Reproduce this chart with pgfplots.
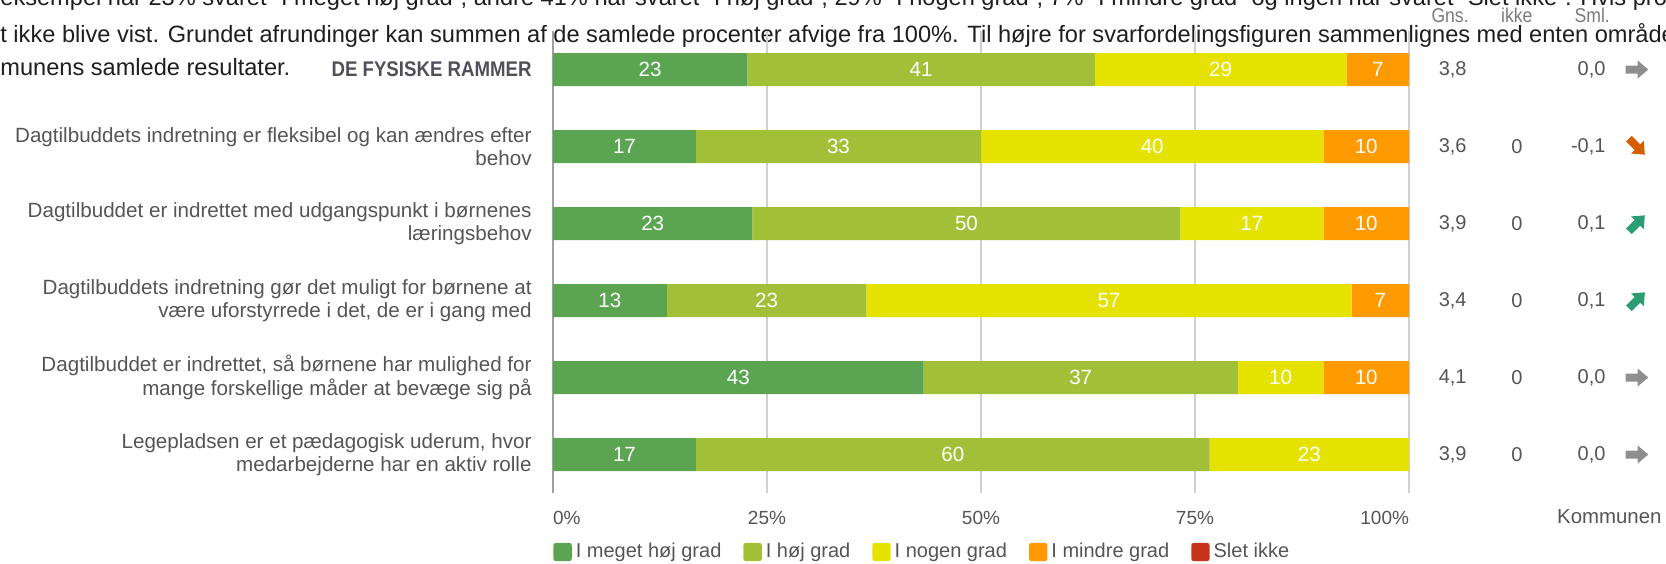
\documentclass[border=0pt]{standalone}
\usepackage{fontspec}
\setmainfont{Liberation Sans}
\newfontfamily\cond[FakeStretch=0.88]{Liberation Sans}
\usepackage{pgfplots}
\pgfplotsset{compat=1.18}
\definecolor{c1}{HTML}{5BA552}
\definecolor{c2}{HTML}{A2C037}
\definecolor{c3}{HTML}{E6E200}
\definecolor{c4}{HTML}{FF9A00}
\definecolor{c5}{HTML}{C8331B}
\definecolor{txt}{HTML}{555555}
\definecolor{hdr}{HTML}{7A7A7A}
\definecolor{topc}{HTML}{1E1E1E}
\definecolor{gridc}{HTML}{D0D0D0}
\definecolor{zeroc}{HTML}{A0A0A0}
\definecolor{arrgray}{HTML}{8E8E8E}
\definecolor{arrorange}{HTML}{D45E00}
\definecolor{arrgreen}{HTML}{2A9D72}
\definecolor{catc}{HTML}{50505A}
\pgfdeclareplotmark{blockarrow}{%
 \pgfpathmoveto{\pgfpoint{-5.5pt}{-2pt}}%
 \pgfpathlineto{\pgfpoint{0.5pt}{-2pt}}%
 \pgfpathlineto{\pgfpoint{0.5pt}{-4.5pt}}%
 \pgfpathlineto{\pgfpoint{5.75pt}{0pt}}%
 \pgfpathlineto{\pgfpoint{0.5pt}{4.5pt}}%
 \pgfpathlineto{\pgfpoint{0.5pt}{2pt}}%
 \pgfpathlineto{\pgfpoint{-5.5pt}{2pt}}%
 \pgfpathclose
 \pgfusepathqfill}
\newcommand{\lfont}{\fontsize{10}{12}\selectfont}
\newcommand{\kfont}{\fontsize{10.2}{12}\selectfont}
\newcommand{\tfont}{\fontsize{9.5}{11}\selectfont}
\newcommand{\vfont}{\fontsize{10}{12}\selectfont}
\newcommand{\hfont}{\cond\fontsize{10}{12}\selectfont}
\newcommand{\topfont}{\fontsize{11.8}{14}\selectfont}
\pgfplotsset{
 sq/.style={legend image code/.code={\fill[#1, rounded corners=1.3pt] (0pt,-4.6pt) rectangle (9.2pt,4.6pt);}},
}
\begin{document}
\begin{tikzpicture}
\useasboundingbox (0,0) rectangle (833pt,281.5pt);
\clip (0,0) rectangle (833pt,281.5pt);
\node[anchor=base west, inner sep=0, font=\topfont, text=topc] at (0pt,278.5pt) {eksempel har 23\% svaret "I meget høj grad", andre 41\% har svaret "I høj grad", 29\% "I nogen grad", 7\% "I mindre grad" og ingen har svaret "Slet ikke". Hvis procenten};
\node[anchor=base west, inner sep=0, font=\topfont, text=topc] at (0pt,260pt) {t ikke blive vist. Grundet afrundinger kan summen af de samlede procenter afvige fra 100\%. Til højre for svarfordelingsfiguren sammenlignes med enten område};
\node[anchor=base west, inner sep=0, font=\topfont, text=topc] at (0pt,243.5pt) {munens samlede resultater.};
\begin{axis}[
 at={(276.5pt,35pt)}, anchor=south west,
 scale only axis, width=428pt, height=231pt,
 xbar stacked, bar width=16.5pt,
 xmin=0, xmax=100, ymin=-0.5, ymax=5.5,
 ytick={0,...,5},
 yticklabels={
  {Legepladsen er et pædagogisk uderum, hvor\\medarbejderne har en aktiv rolle},
  {Dagtilbuddet er indrettet, så børnene har mulighed for\\mange forskellige måder at bevæge sig på},
  {Dagtilbuddets indretning gør det muligt for børnene at\\være uforstyrrede i det, de er i gang med},
  {Dagtilbuddet er indrettet med udgangspunkt i børnenes\\læringsbehov},
  {Dagtilbuddets indretning er fleksibel og kan ændres efter\\behov},
  {\cond\bfseries\fontsize{10.6}{12}\selectfont\color{catc}DE FYSISKE RAMMER}},
 yticklabel style={align=right, font=\fontsize{10.3}{11.8}\selectfont, text=txt, inner sep=0pt, xshift=-10.5pt},
 xtick={25,50,75,100}, xticklabels={25\%,50\%,75\%,\makebox[0pt][r]{100\%}},
 extra x ticks={0}, extra x tick labels={\makebox[0pt][l]{0\%}},
 extra x tick style={major grid style={draw=zeroc, line width=1.1pt}},
 xmajorgrids, major grid style={draw=gridc, line width=0.8pt},
 xticklabel style={font=\tfont, text=txt, yshift=-5.5pt},
 axis line style={draw=none}, major tick length=0pt,
 clip=false,
 legend style={at={(0,0)}, anchor=west, yshift=-29.5pt, draw=none, fill=none, inner sep=0pt, font=\lfont, text=txt, /tikz/every even column/.append style={column sep=9pt}},
 legend columns=-1, legend cell align=left,
]
\addplot[fill=c1, draw=none, sq=c1] coordinates {(16.7,0) (43.3,1) (13.3,2) (23.3,3) (16.7,4) (22.7,5)};
\addplot[fill=c2, draw=none, sq=c2] coordinates {(60.0,0) (36.7,1) (23.3,2) (50.0,3) (33.3,4) (40.6,5)};
\addplot[fill=c3, draw=none, sq=c3] coordinates {(23.3,0) (10.0,1) (56.7,2) (16.7,3) (40.0,4) (29.4,5)};
\addplot[fill=c4, draw=none, sq=c4] coordinates {(0,0) (10.0,1) (6.7,2) (10.0,3) (10.0,4) (7.3,5)};
\addplot[fill=c5, draw=none, sq=c5] coordinates {(0,0) (0,1) (0,2) (0,3) (0,4) (0,5)};
\legend{I meget høj grad, I høj grad, I nogen grad, I mindre grad, Slet ikke}
\end{axis}
\begin{axis}[
 at={(276.5pt,35pt)}, anchor=south west,
 scale only axis, width=428pt, height=231pt,
 xmin=0, xmax=100, ymin=-0.5, ymax=5.5,
 hide axis, clip=false,
]
\addplot[only marks, mark=none, nodes near coords, point meta=explicit symbolic,
 every node near coord/.append style={anchor=center, font=\fontsize{10.3}{12}\selectfont, text=white}]
 table[meta=lab] {
x y lab
11.35 5 23
43.0 5 41
78.0 5 29
96.35 5 7
8.35 4 17
33.35 4 33
70.0 4 40
95.0 4 10
11.65 3 23
48.3 3 50
81.65 3 17
95.0 3 10
6.65 2 13
24.95 2 23
64.95 2 57
96.65 2 7
21.65 1 43
61.65 1 37
85.0 1 10
95.0 1 10
8.35 0 17
46.7 0 60
88.35 0 23
};
\addplot[only marks, mark=none, nodes near coords, point meta=explicit symbolic,
 every node near coord/.append style={anchor=center, font=\vfont, text=txt}]
 table[meta=lab] {
x y lab
105.1 5 3,8
105.1 4 3,6
105.1 3 3,9
105.1 2 3,4
105.1 1 4,1
105.1 0 3,9
112.6 4 0
112.6 3 0
112.6 2 0
112.6 1 0
112.6 0 0
};
\addplot[only marks, mark=none, nodes near coords, point meta=explicit symbolic,
 every node near coord/.append style={anchor=east, inner sep=0pt, font=\vfont, text=txt}]
 table[meta=lab] {
x y lab
123.0 5 0,0
123.0 4 -0,1
123.0 3 0,1
123.0 2 0,1
123.0 1 0,0
123.0 0 0,0
};
\addplot[only marks, mark=blockarrow, color=arrgray] coordinates {(126.6,5) (126.6,1) (126.6,0)};
\addplot[only marks, mark=blockarrow, color=arrorange, mark options={rotate=-45}] coordinates {(126.6,4)};
\addplot[only marks, mark=blockarrow, color=arrgreen, mark options={rotate=45}] coordinates {(126.6,3) (126.6,2)};
\node[font=\hfont, text=hdr] at (axis cs:104.8,5.70) {Gns.};
\node[font=\hfont, text=hdr] at (axis cs:112.6,5.70) {ikke};
\node[font=\hfont, text=hdr] at (axis cs:121.4,5.70) {Sml.};
\node[font=\kfont, text=txt] at (axis cs:123.4,-0.812) {Kommunen};
\end{axis}
\end{tikzpicture}
\end{document}
